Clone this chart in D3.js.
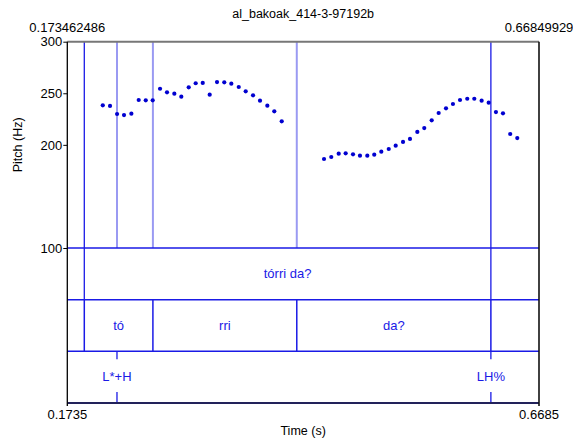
<!DOCTYPE html>
<html>
<head>
<meta charset="utf-8">
<script src="https://cdn.jsdelivr.net/npm/d3@7"></script>
<style>
  body { margin: 0; background: #fff; }
  svg text { font-family: "Liberation Sans", Arial, sans-serif; font-size: 13px; }
  .tier-label { fill: #1a1ae6; }
</style>
</head>
<body>
<div id="chart"></div>
<script>
// Janela de tempo e rótulos das bordas
var timeStart = 0.173462486,
    timeEnd   = 0.66849929;
var topTimeLabels    = ["0.173462486", "0.66849929"];
var bottomTimeLabels = ["0.1735", "0.6685"];
var pitchTicks = [100, 200, 250, 300];

// Contorno de F0 (s, Hz)
var pitchTimes = [
  0.2107, 0.2183, 0.2257, 0.2330, 0.2407, 0.2484, 0.2558, 0.2631, 0.2708, 0.2781,
  0.2858, 0.2931, 0.3009, 0.3082, 0.3156, 0.3229, 0.3306, 0.3382, 0.3456, 0.3534,
  0.3607, 0.3684, 0.3757, 0.3834, 0.3907, 0.3985,
  0.4429, 0.4505, 0.4583, 0.4656, 0.4733, 0.4806, 0.4883, 0.4956, 0.5030, 0.5108,
  0.5181, 0.5258, 0.5331, 0.5408, 0.5481, 0.5559, 0.5632, 0.5709, 0.5782, 0.5856,
  0.5932, 0.6006, 0.6083, 0.6157, 0.6233, 0.6307, 0.6383, 0.6457
];
var pitchValues = [
  238.3, 237.7, 229.9, 228.9, 230.2, 243.5, 243.2, 243.2, 254.4, 250.9,
  249.6, 246.7, 255.8, 259.7, 260.0, 248.6, 260.9, 260.6, 259.3, 256.1,
  251.9, 248.0, 242.8, 238.0, 232.5, 222.8,
  186.3, 188.2, 191.4, 191.8, 190.8, 189.5, 189.5, 190.5, 193.4, 196.0,
  199.2, 202.8, 205.7, 212.5, 216.3, 223.8, 230.9, 235.4, 239.6, 243.5,
  244.7, 244.7, 242.8, 240.9, 231.8, 230.6, 210.5, 206.6
];

// Camadas do TextGrid
var tierNames = ["words", "syllables", "tones"];
var wordStarts = [0.1913], wordEnds = [0.6180], wordTexts = ["tórri da?"];
var syllStarts = [0.1913, 0.2633, 0.4143],
    syllEnds   = [0.2633, 0.4143, 0.6180],
    syllTexts  = ["tó", "rri", "da?"];
var toneTimes = [0.2256, 0.6180],
    toneTexts = ["L*+H", "LH%"];

var width = 573, height = 442;
var plotLeft = 67.3, plotRight = 539, plotTop = 41.7, pitchBottom = 248, plotBottom = 403;

var svg = d3.select("#chart")
  .append("svg")
  .attr("width", width)
  .attr("height", height);

// Escalas
var x = d3.scaleLinear().domain([timeStart, timeEnd]).range([plotLeft, plotRight]);
var y = d3.scaleLinear().domain([100, 300]).range([pitchBottom, plotTop]);
var tierScale = d3.scaleBand().domain(tierNames).range([pitchBottom, plotBottom]);

var blue = "#1a1ae6", lightBlue = "#9a9af2";

// Linhas verticais na área do pitch
var wordBounds = wordStarts.concat(wordEnds);
var pitchLines = d3.union(syllStarts, syllEnds, toneTimes);
pitchLines.forEach(function(t) {
  var isWord = wordBounds.indexOf(t) >= 0;
  svg.append("line")
    .attr("x1", x(t)).attr("x2", x(t))
    .attr("y1", plotTop).attr("y2", pitchBottom)
    .attr("stroke", isWord ? blue : lightBlue)
    .attr("stroke-width", isWord ? 1.3 : 2);
});

// Camada 1: palavras
var t1 = tierScale("words");
wordBounds.forEach(function(t) {
  svg.append("line")
    .attr("x1", x(t)).attr("x2", x(t))
    .attr("y1", t1).attr("y2", t1 + tierScale.bandwidth())
    .attr("stroke", blue).attr("stroke-width", 1.3);
});
wordTexts.forEach(function(txt, i) {
  svg.append("text").attr("class", "tier-label")
    .attr("x", x((wordStarts[i] + wordEnds[i]) / 2))
    .attr("y", t1 + tierScale.bandwidth() / 2 + 4.5)
    .attr("text-anchor", "middle").text(txt);
});

// Camada 2: sílabas
var t2 = tierScale("syllables");
d3.union(syllStarts, syllEnds).forEach(function(t) {
  svg.append("line")
    .attr("x1", x(t)).attr("x2", x(t))
    .attr("y1", t2).attr("y2", t2 + tierScale.bandwidth())
    .attr("stroke", blue).attr("stroke-width", 1.5);
});
syllTexts.forEach(function(txt, i) {
  svg.append("text").attr("class", "tier-label")
    .attr("x", x((syllStarts[i] + syllEnds[i]) / 2))
    .attr("y", t2 + tierScale.bandwidth() / 2 + 4.5)
    .attr("text-anchor", "middle").text(txt);
});

// Camada 3: tons (pontos)
var t3 = tierScale("tones"), bw = tierScale.bandwidth();
toneTimes.forEach(function(t, i) {
  svg.append("line")
    .attr("x1", x(t)).attr("x2", x(t))
    .attr("y1", t3).attr("y2", t3 + 8)
    .attr("stroke", blue).attr("stroke-width", 1.3);
  svg.append("line")
    .attr("x1", x(t)).attr("x2", x(t))
    .attr("y1", t3 + bw - 11).attr("y2", t3 + bw)
    .attr("stroke", blue).attr("stroke-width", 1.3);
  svg.append("text").attr("class", "tier-label")
    .attr("x", x(t))
    .attr("y", t3 + bw / 2 + 4)
    .attr("text-anchor", "middle").text(toneTexts[i]);
});

// Linhas horizontais das camadas
tierNames.forEach(function(n) {
  svg.append("line")
    .attr("x1", plotLeft).attr("x2", plotRight)
    .attr("y1", tierScale(n)).attr("y2", tierScale(n))
    .attr("stroke", blue).attr("stroke-width", 1.5);
});

// Pontos de F0
svg.selectAll(".f0")
  .data(pitchTimes)
  .enter().append("circle")
  .attr("class", "f0")
  .attr("cx", function(d) { return x(d); })
  .attr("cy", function(d, i) { return y(pitchValues[i]); })
  .attr("r", 2.1)
  .attr("fill", "#0000d0");

// Molduras
svg.append("line")
  .attr("x1", plotLeft).attr("x2", plotRight).attr("y1", plotTop).attr("y2", plotTop)
  .attr("stroke", "#777").attr("stroke-width", 2);
svg.append("line")
  .attr("x1", plotLeft).attr("x2", plotRight).attr("y1", plotBottom).attr("y2", plotBottom)
  .attr("stroke", "#22225a").attr("stroke-width", 2);
svg.append("line")
  .attr("x1", plotLeft).attr("x2", plotLeft).attr("y1", plotTop).attr("y2", plotBottom + 3)
  .attr("stroke", "#000").attr("stroke-width", 1.3);
svg.append("line")
  .attr("x1", plotRight).attr("x2", plotRight).attr("y1", plotTop).attr("y2", plotBottom + 3)
  .attr("stroke", "#111").attr("stroke-width", 1.6);

// Eixo Y
var yAxis = d3.axisLeft(y)
  .tickValues(pitchTicks)
  .tickSizeInner(4)
  .tickSizeOuter(0)
  .tickPadding(1);

var yG = svg.append("g")
  .attr("transform", "translate(" + plotLeft + ",0)")
  .call(yAxis);
yG.select(".domain").remove();
yG.selectAll("text")
  .attr("font-size", "13px")
  .attr("font-family", "Liberation Sans, Arial, sans-serif")
  .attr("fill", "#000");
yG.selectAll("line").attr("stroke", "#000");

svg.append("text")
  .attr("transform", "translate(22," + ((plotTop + pitchBottom) / 2) + ") rotate(-90)")
  .attr("text-anchor", "middle")
  .style("font-size", "12.5px")
  .text("Pitch (Hz)");

// Rótulos de tempo
[timeStart, timeEnd].forEach(function(t, i) {
  svg.append("text")
    .attr("x", x(t)).attr("y", 32)
    .attr("text-anchor", "middle")
    .text(topTimeLabels[i]);
  svg.append("text")
    .attr("x", x(t)).attr("y", 419)
    .attr("text-anchor", "middle")
    .text(bottomTimeLabels[i]);
});

svg.append("text")
  .attr("x", (plotLeft + plotRight) / 2).attr("y", 435)
  .attr("text-anchor", "middle")
  .style("font-size", "12.5px")
  .text("Time (s)");

// Título
svg.append("text")
  .attr("x", (plotLeft + plotRight) / 2).attr("y", 18)
  .attr("text-anchor", "middle")
  .style("font-size", "12.5px")
  .text("al_bakoak_414-3-97192b");
</script>
</body>
</html>
